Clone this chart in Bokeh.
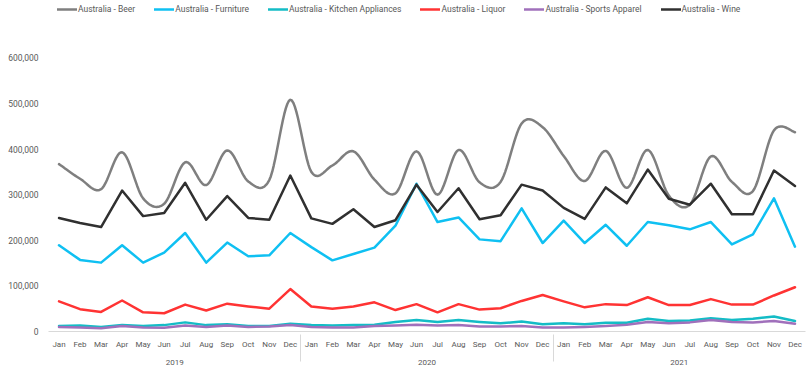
from bokeh.plotting import figure
from bokeh.models import (FactorRange, Range1d, ColumnDataSource, Legend, LegendItem,
                          FixedTicker, NumeralTickFormatter)
from bokeh.embed import file_html
from bokeh.resources import INLINE

years = ["2019", "2020", "2021"]
months = ["Jan", "Feb", "Mar", "Apr", "May", "Jun", "Jul", "Aug", "Sep", "Oct", "Nov", "Dec"]

beer = [367000, 335000, 312000, 393000, 292000, 280000, 371000, 321000, 397000, 329000, 332000, 508000,
        350000, 364000, 395000, 333000, 303000, 395000, 300000, 398000, 327000, 328000, 456000, 448000,
        385000, 330000, 396000, 315000, 398000, 298000, 278000, 384000, 328000, 308000, 441000, 437000]
furniture = [189000, 157000, 151000, 189000, 151000, 173000, 216000, 151000, 195000, 165000, 167000, 216000,
             185000, 156000, 170000, 184000, 232000, 324000, 240000, 250000, 202000, 198000, 270000, 194000,
             243000, 194000, 234000, 188000, 240000, 233000, 224000, 240000, 191000, 213000, 292000, 186000]
kitchen = [12000, 13000, 10000, 14000, 12000, 14000, 20000, 14000, 16000, 12000, 12000, 17000,
           14000, 13000, 14000, 15000, 21000, 25000, 21000, 25000, 21000, 18000, 22000, 16000,
           18000, 16000, 19000, 19000, 28000, 23000, 24000, 29000, 25000, 28000, 33000, 23000]
liquor = [66000, 49000, 43000, 68000, 42000, 40000, 59000, 46000, 61000, 55000, 50000, 93000,
          55000, 50000, 55000, 64000, 47000, 60000, 42000, 60000, 48000, 51000, 67000, 80000,
          66000, 53000, 60000, 58000, 75000, 58000, 58000, 71000, 59000, 59000, 79000, 97000]
sports = [10000, 9000, 7000, 12000, 9000, 8000, 13000, 10000, 13000, 10000, 11000, 14000,
          10000, 9000, 9000, 12000, 13000, 15000, 13000, 14000, 11000, 11000, 12000, 9000,
          9000, 10000, 12000, 15000, 21000, 18000, 20000, 25000, 21000, 20000, 23000, 17000]
wine = [249000, 238000, 229000, 309000, 253000, 260000, 326000, 245000, 297000, 249000, 245000, 342000,
        248000, 236000, 268000, 229000, 244000, 322000, 262000, 314000, 246000, 255000, 322000, 309000,
        271000, 247000, 316000, 281000, 355000, 291000, 278000, 324000, 257000, 257000, 353000, 319000]

names = ["Australia - Beer", "Australia - Furniture", "Australia - Kitchen Appliances",
         "Australia - Liquor", "Australia - Sports Apparel", "Australia - Wine"]
colors = ["#7f7f7f", "#0fc0f2", "#14bcc6", "#ff3333", "#a070bb", "#303030"]
y_ticks = [0, 100000, 200000, 300000, 400000, 500000, 600000]

FONT = "Roboto"
TXT = "#595959"

factors = [(y, m) for y in years for m in months]

p = figure(width=808, height=369, output_backend="svg", toolbar_location=None,
           x_range=FactorRange(*factors, group_padding=0, range_padding=0),
           y_range=Range1d(0, 717000),
           min_border_left=48, min_border_right=3, min_border_top=4, min_border_bottom=38)
p.outline_line_color = None
p.xgrid.grid_line_color = None
p.ygrid.grid_line_color = None
p.background_fill_color = "white"
p.border_fill_color = "white"

# smoothed beer line (Catmull-Rom style Bezier segments, sampled)
n = len(beer)
bx, by = [], []
steps = 14
for i in range(n - 1):
    p0 = beer[max(i - 1, 0)]
    p1 = beer[i]
    p2 = beer[i + 1]
    p3 = beer[min(i + 2, n - 1)]
    x0i = max(i - 1, 0)
    x3i = min(i + 2, n - 1)
    c1x = (i + 1 - x0i) / 6.0
    c2x = 1 - (x3i - i) / 6.0
    c1y = p1 + (p2 - p0) / 6.0
    c2y = p2 - (p3 - p1) / 6.0
    for k in range(steps + (1 if i == n - 2 else 0)):
        t = k / steps
        mt = 1 - t
        xo = 3 * mt * mt * t * c1x + 3 * mt * t * t * c2x + t ** 3 * 1.0
        yv = mt ** 3 * p1 + 3 * mt * mt * t * c1y + 3 * mt * t * t * c2y + t ** 3 * p2
        bx.append((factors[i][0], factors[i][1], xo))
        by.append(yv)

renderers = []
src_beer = ColumnDataSource(dict(x=bx, y=by))
renderers.append(p.line("x", "y", source=src_beer, line_color=colors[0], line_width=2.5,
                        line_join="round", line_cap="round"))
for vals, c in zip([furniture, kitchen, liquor, sports, wine], colors[1:]):
    src = ColumnDataSource(dict(x=factors, y=vals))
    renderers.append(p.line("x", "y", source=src, line_color=c, line_width=2.5,
                            line_join="round", line_cap="round"))

legend = Legend(items=[LegendItem(label=nm, renderers=[r]) for nm, r in zip(names, renderers)],
                orientation="horizontal", location=(9, 317),
                label_text_font=FONT, label_text_font_size="8.5px", label_text_color=TXT,
                glyph_width=20, glyph_height=10, label_standoff=1, spacing=19,
                padding=0, margin=0, border_line_color=None, background_fill_alpha=0,
                label_height=10)
p.add_layout(legend)

# y axis
p.yaxis.ticker = FixedTicker(ticks=y_ticks)
p.yaxis.formatter = NumeralTickFormatter(format="0,0")
p.yaxis.axis_line_color = None
p.yaxis.major_tick_line_color = None
p.yaxis.minor_tick_line_color = None
p.yaxis.major_tick_out = 0
p.yaxis.major_tick_in = 0
p.yaxis.major_label_text_font = FONT
p.yaxis.major_label_text_font_size = "8.5px"
p.yaxis.major_label_text_color = TXT
p.yaxis.major_label_standoff = 10

# x axis
xa = p.xaxis[0]
xa.axis_line_color = "#d9d9d9"
xa.major_tick_line_color = None
xa.minor_tick_line_color = None
xa.major_tick_out = 0
xa.major_tick_in = 0
xa.major_label_text_font = FONT
xa.major_label_text_font_size = "8px"
xa.major_label_text_color = TXT
xa.major_label_standoff = 8
xa.group_text_font = FONT
xa.group_text_font_size = "8px"
xa.group_text_font_style = "normal"
xa.group_text_color = TXT
xa.group_label_orientation = "horizontal"
xa.separator_line_color = "#d9d9d9"
xa.separator_line_width = 1

open("out.html", "w").write(file_html(p, INLINE))
